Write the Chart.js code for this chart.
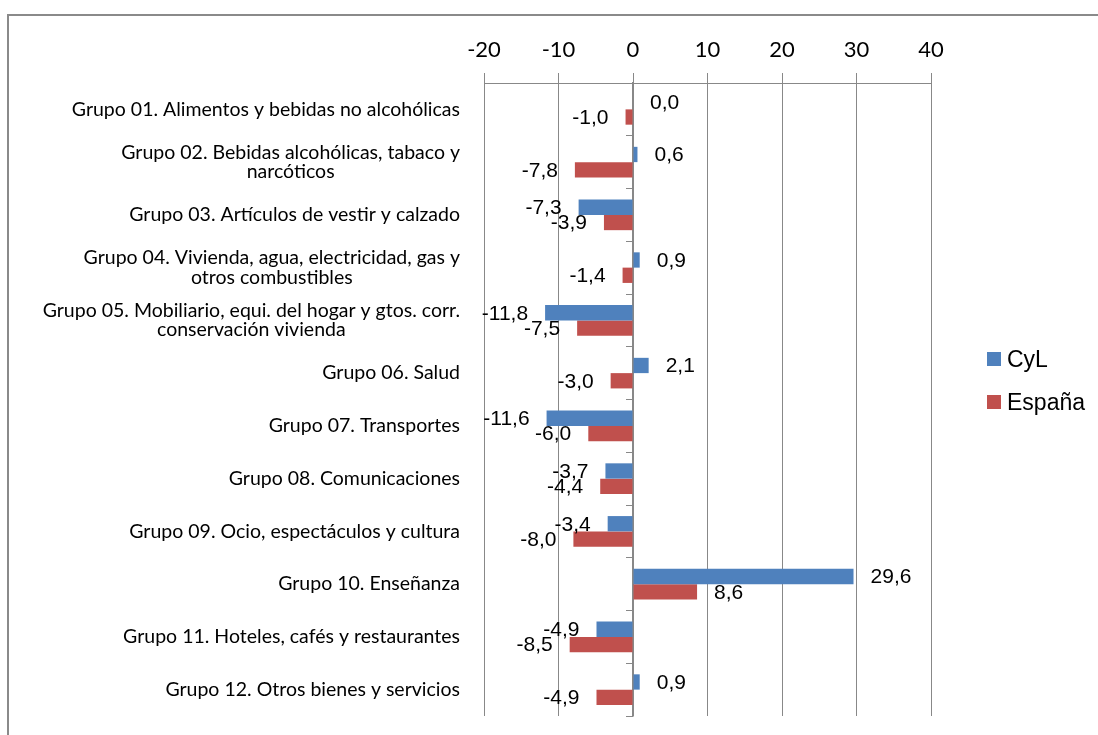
<!DOCTYPE html>
<html>
<head>
<meta charset="utf-8">
<script src="https://cdn.jsdelivr.net/npm/chart.js@4.4.1/dist/chart.umd.min.js"></script>
<style>
  html, body { margin: 0; padding: 0; background: #fff; overflow: hidden; }
  #frame {
    position: absolute; left: 7px; top: 14px; width: 1200px; height: 800px;
    border-left: 2px solid #8a8a8a; border-top: 2px solid #8a8a8a;
  }
  #chart { position: absolute; left: 0; top: 0; }
</style>
</head>
<body>
<div id="frame"></div>
<canvas id="chart" width="1098" height="735"></canvas>
<script>
const groups = [
  "Grupo 01. Alimentos y bebidas no alcohólicas",
  ["Grupo 02. Bebidas alcohólicas, tabaco y", "narcóticos"],
  "Grupo 03. Artículos de vestir y calzado",
  ["Grupo 04. Vivienda, agua, electricidad, gas y", "otros combustibles"],
  ["Grupo 05. Mobiliario, equi. del hogar y gtos. corr.", "conservación vivienda"],
  "Grupo 06. Salud",
  "Grupo 07. Transportes",
  "Grupo 08. Comunicaciones",
  "Grupo 09. Ocio, espectáculos y cultura",
  "Grupo 10. Enseñanza",
  "Grupo 11. Hoteles, cafés y restaurantes",
  "Grupo 12. Otros bienes y servicios",
];
const cyl = [0.0, 0.6, -7.3, 0.9, -11.8, 2.1, -11.6, -3.7, -3.4, 29.6, -4.9, 0.9];
const espana = [-1.0, -7.8, -3.9, -1.4, -7.5, -3.0, -6.0, -4.4, -8.0, 8.6, -8.5, -4.9];
const xTicks = [-20, -10, 0, 10, 20, 30, 40];

const GRID = "#888888";
const fmt = (v) => v.toFixed(1).replace(".", ",");

// value labels beside each bar end, Excel style
const valueLabels = {
  id: "valueLabels",
  afterDatasetsDraw(chart) {
    const ctx = chart.ctx;
    ctx.save();
    ctx.font = "21px 'Liberation Sans', Arial, sans-serif";
    ctx.fillStyle = "#000";
    ctx.textBaseline = "middle";
    chart.data.datasets.forEach((ds, i) => {
      chart.getDatasetMeta(i).data.forEach((bar, j) => {
        const v = ds.data[j];
        if (v >= 0) {
          ctx.textAlign = "left";
          ctx.fillText(fmt(v), bar.x + 17, bar.y + 1);
        } else {
          ctx.textAlign = "right";
          ctx.fillText(fmt(v), bar.x - 17, bar.y + 1);
        }
      });
    });
    ctx.restore();
  },
};

// category names: right-aligned block, lines centred inside it
const groupLabels = {
  id: "groupLabels",
  afterDraw(chart) {
    const ctx = chart.ctx;
    const yScale = chart.scales.y;
    const right = 460;
    const lh = 19.5;
    ctx.save();
    ctx.font = "19.5px Lato, 'Open Sans', sans-serif";
    ctx.fillStyle = "#000";
    ctx.textBaseline = "middle";
    ctx.textAlign = "center";
    groups.forEach((g, i) => {
      const lines = Array.isArray(g) ? g : [g];
      const w = Math.max(...lines.map((l) => ctx.measureText(l).width));
      const cx = right - w / 2;
      const cy = yScale.getPixelForValue(i);
      const top = cy - ((lines.length - 1) * lh) / 2;
      lines.forEach((l, k) => ctx.fillText(l, cx, top + k * lh));
    });
    ctx.restore();
  },
};

// legend on the right
const sideLegend = {
  id: "sideLegend",
  afterDraw(chart) {
    const ctx = chart.ctx;
    ctx.save();
    ctx.font = "23px 'Liberation Sans', Arial, sans-serif";
    ctx.textBaseline = "middle";
    ctx.textAlign = "left";
    chart.data.datasets.forEach((ds, i) => {
      const y = 359 + i * 43;
      ctx.fillStyle = ds.backgroundColor;
      ctx.fillRect(987, y - 7, 14, 14);
      ctx.fillStyle = "#000";
      ctx.fillText(ds.label, 1007, y + 2);
    });
    ctx.restore();
  },
};

new Chart(document.getElementById("chart"), {
  type: "bar",
  data: {
    labels: groups.map((g) => (Array.isArray(g) ? g.join(" ") : g)),
    datasets: [
      { label: "CyL", data: cyl, backgroundColor: "#4F81BD" },
      { label: "España", data: espana, backgroundColor: "#C0504D" },
    ],
  },
  options: {
    indexAxis: "y",
    responsive: false,
    animation: false,
    events: [],
    layout: { padding: { left: 484, right: 167, top: 0, bottom: 19 } },
    datasets: { bar: { categoryPercentage: 0.58, barPercentage: 1 } },
    plugins: { legend: { display: false }, tooltip: { enabled: false } },
    scales: {
      x: {
        position: "top",
        min: xTicks[0],
        max: xTicks[xTicks.length - 1],
        afterBuildTicks: (scale) => {
          scale.ticks = xTicks.map((v) => ({ value: v }));
        },
        afterFit: (scale) => {
          scale.height = 83;
        },
        ticks: {
          font: { family: "Lato, 'Open Sans', sans-serif", size: 22 },
          color: "#000",
          padding: 10,
        },
        grid: { color: GRID, tickLength: 10, lineWidth: 1 },
        border: { display: true, color: GRID, width: 1 },
      },
      y: {
        position: { x: 0 },
        ticks: { display: false },
        grid: { drawOnChartArea: false, color: GRID, tickLength: 6 },
        border: { display: true, color: GRID, width: 1.5 },
      },
    },
  },
  plugins: [valueLabels, groupLabels, sideLegend],
});
</script>
</body>
</html>
